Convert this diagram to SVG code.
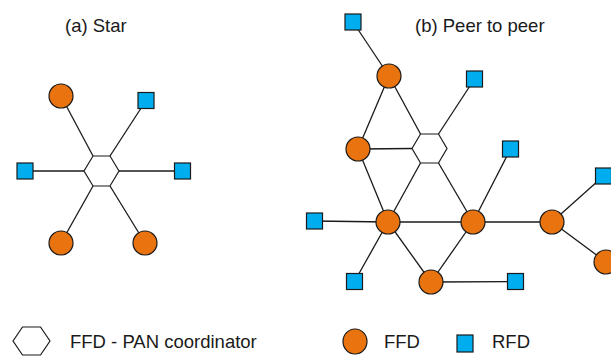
<svg xmlns="http://www.w3.org/2000/svg" width="611" height="356" viewBox="0 0 611 356">
<defs>
<style>
.e{stroke:#1a1a1a;stroke-width:1.3;fill:none}
.f{fill:#E9730F;stroke:#1a1a1a;stroke-width:1.2}
.r{fill:#00AEEF;stroke:#1a1a1a;stroke-width:1.2}
.h{fill:#ffffff;stroke:#1a1a1a;stroke-width:1.2}
.t{font-family:"Liberation Sans",Arial,sans-serif;font-size:18.5px;fill:#1a1a1a}
</style>
</defs>
<rect width="611" height="356" fill="#ffffff"/>
<text class="t" x="65" y="32">(a) Star</text>
<text class="t" x="415" y="32">(b) Peer to peer</text>
<g id="connectors">
<line class="e" x1="61" y1="96" x2="93" y2="156"/>
<line class="e" x1="146" y1="100.5" x2="110" y2="156"/>
<line class="e" x1="25" y1="171" x2="84" y2="171"/>
<line class="e" x1="182.5" y1="171" x2="119" y2="171"/>
<line class="e" x1="61" y1="243" x2="93" y2="186"/>
<line class="e" x1="145" y1="243" x2="110" y2="186"/>
<line class="e" x1="353" y1="22" x2="389" y2="76"/>
<line class="e" x1="389" y1="76" x2="358" y2="149"/>
<line class="e" x1="389" y1="76" x2="420.5" y2="134"/>
<line class="e" x1="474.5" y1="79" x2="438.5" y2="134"/>
<line class="e" x1="358" y1="149" x2="412" y2="148.5"/>
<line class="e" x1="358" y1="149" x2="388" y2="222"/>
<line class="e" x1="420.5" y1="163" x2="388" y2="222"/>
<line class="e" x1="438.5" y1="163" x2="473" y2="222"/>
<line class="e" x1="510.5" y1="149" x2="473" y2="222"/>
<line class="e" x1="314.5" y1="221" x2="388" y2="222"/>
<line class="e" x1="388" y1="222" x2="473" y2="222"/>
<line class="e" x1="473" y1="222" x2="552" y2="222"/>
<line class="e" x1="552" y1="222" x2="603.5" y2="176"/>
<line class="e" x1="552" y1="222" x2="606" y2="262"/>
<line class="e" x1="388" y1="222" x2="354.5" y2="281.5"/>
<line class="e" x1="388" y1="222" x2="431" y2="282"/>
<line class="e" x1="473" y1="222" x2="431" y2="282"/>
<line class="e" x1="431" y1="282" x2="515.5" y2="281.5"/>
</g>
<g id="a-hub"><polygon class="h" points="84,171 93,156 110,156 119,171 110,186 93,186"/></g>
<g id="a-f1"><circle class="f" cx="61" cy="96" r="12"/></g>
<g id="a-f2"><circle class="f" cx="61" cy="243" r="12"/></g>
<g id="a-f3"><circle class="f" cx="145" cy="243" r="12"/></g>
<g id="a-r1"><rect class="r" x="138" y="92.5" width="16" height="16"/></g>
<g id="a-r2"><rect class="r" x="17" y="163" width="16" height="16"/></g>
<g id="a-r3"><rect class="r" x="174.5" y="163" width="16" height="16"/></g>
<g id="b-hub"><polygon class="h" points="412,148.5 420.5,134 438.5,134 447,148.5 438.5,163 420.5,163"/></g>
<g id="b-fa"><circle class="f" cx="389" cy="76" r="12"/></g>
<g id="b-fb"><circle class="f" cx="358" cy="149" r="12"/></g>
<g id="b-fc"><circle class="f" cx="388" cy="222" r="12"/></g>
<g id="b-fd"><circle class="f" cx="473" cy="222" r="12"/></g>
<g id="b-fe"><circle class="f" cx="552" cy="222" r="12"/></g>
<g id="b-ff"><circle class="f" cx="606" cy="262" r="12"/></g>
<g id="b-fg"><circle class="f" cx="431" cy="282" r="12"/></g>
<g id="b-r1"><rect class="r" x="345" y="14" width="16" height="16"/></g>
<g id="b-r2"><rect class="r" x="466.5" y="71" width="16" height="16"/></g>
<g id="b-r3"><rect class="r" x="502.5" y="141" width="16" height="16"/></g>
<g id="b-r4"><rect class="r" x="595.5" y="168" width="16" height="16"/></g>
<g id="b-r5"><rect class="r" x="306.5" y="213" width="16" height="16"/></g>
<g id="b-r6"><rect class="r" x="346.5" y="273.5" width="16" height="16"/></g>
<g id="b-r7"><rect class="r" x="507.5" y="273.5" width="16" height="16"/></g>
<g id="legend-hub"><polygon class="h" points="13,341 22.5,327 40.5,327 50,341 40.5,355 22.5,355"/><text class="t" x="70" y="348">FFD - PAN coordinator</text></g>
<g id="legend-ffd"><ellipse class="f" cx="355" cy="341.5" rx="12" ry="12.5"/><text class="t" x="384" y="348">FFD</text></g>
<g id="legend-rfd"><rect class="r" x="457" y="335" width="16" height="17"/><text class="t" x="492" y="348">RFD</text></g>
</svg>
